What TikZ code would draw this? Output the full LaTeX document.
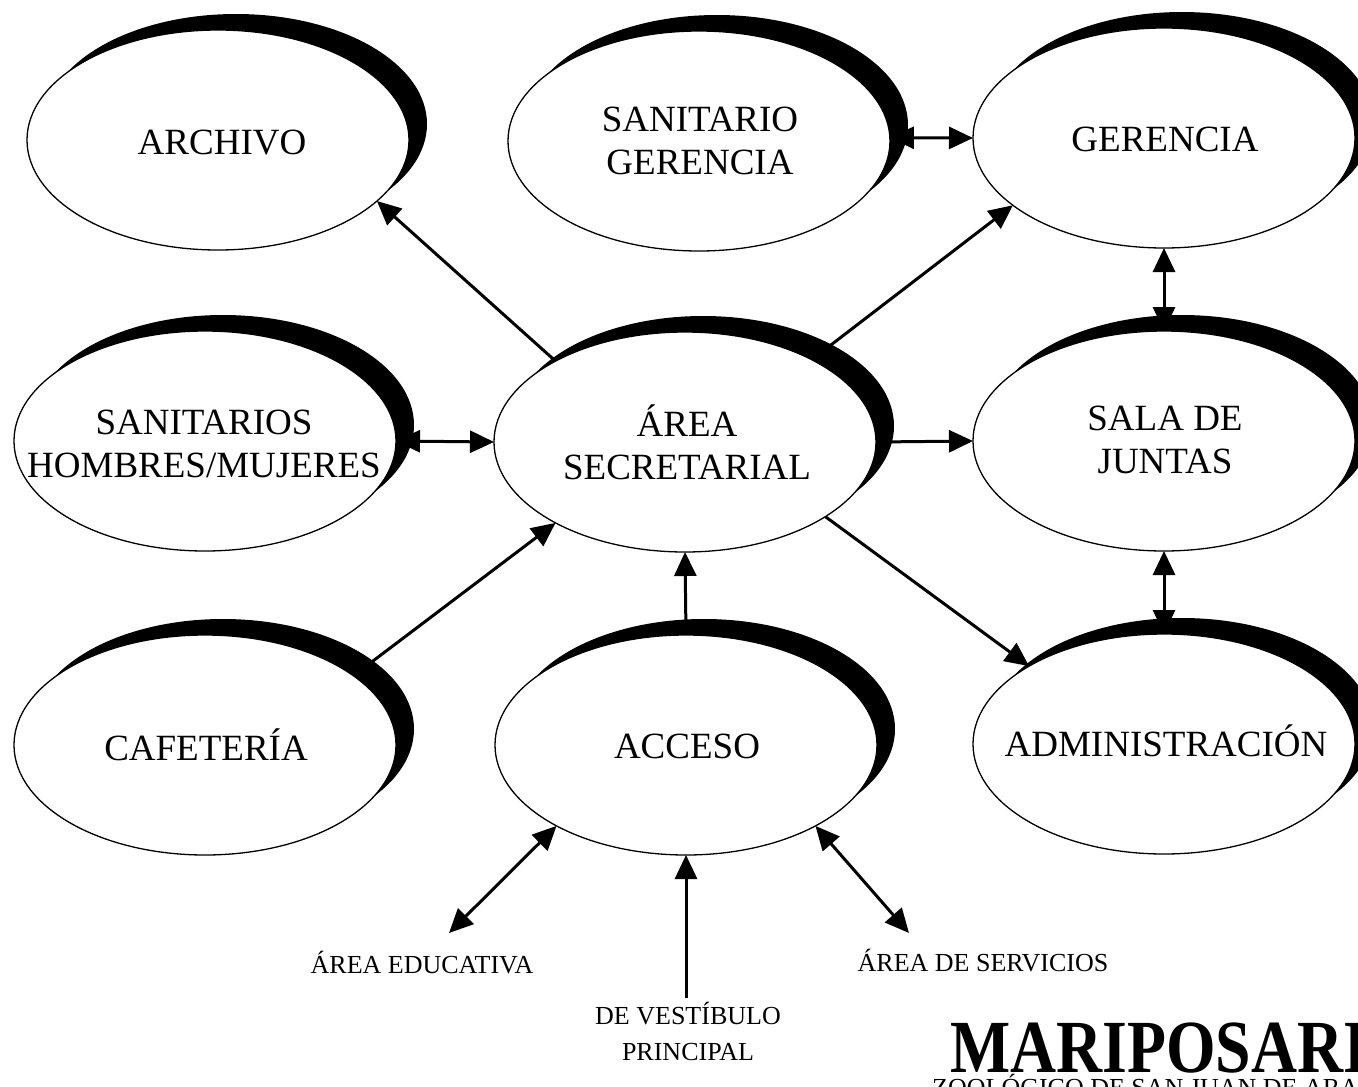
\documentclass[tikz,border=0pt]{standalone}
\usepackage{fontspec}
\usepackage{graphicx}
\setmainfont{Liberation Serif}
\usetikzlibrary{arrows.meta,shapes.geometric,shadows,backgrounds}

\tikzset{
  room/.style={ellipse, draw=black, line width=1.3pt, fill=white,
    minimum width=382pt, minimum height=220pt, inner sep=0pt, outer sep=0pt,
    general shadow={fill=black, shadow xshift=18pt, shadow yshift=16pt}},
  roomtext/.style={font=\fontsize{37}{43}\selectfont, align=center, inner sep=0pt},
  note/.style={font=\fontsize{26}{36}\selectfont, align=center, inner sep=0pt},
  flowtip/.tip={Triangle[length=24pt,width=22pt]},
  oneway/.style={line width=3pt, -flowtip},
  twoway/.style={line width=3pt, flowtip-flowtip},
}

\begin{document}
\begin{tikzpicture}[x=1pt,y=-1pt]
\useasboundingbox (0,0) rectangle (1358,1087);
\clip (0,0) rectangle (1358,1087);

% rooms (white ellipses with a black crescent shadow)
\node[room] (arch)  at (218,140) {};
\node[room] (sang)  at (699,141) {};
\node[room] (ger)   at (1164,138) {};
\node[room] (sanhm) at (205,441) {};
\node[room] (sec)   at (685,442) {};
\node[room] (sala)  at (1164,441) {};
\node[room] (caf)   at (205,745) {};
\node[room] (acc)   at (686,745) {};
\node[room] (adm)   at (1164,744) {};

% room names
\node[roomtext] (archT)  at (222,143) {ARCHIVO};
\node[roomtext] (sangT)  at (700,141) {SANITARIO\\GERENCIA};
\node[roomtext] (gerT)   at (1165,139) {GERENCIA};
\node[roomtext] (sanhmT) at (204,444) {SANITARIOS\\HOMBRES/MUJERES};
\node[roomtext] (secT)   at (687,442) {ÁREA\\SECRETARIAL};
\node[roomtext] (salaT)  at (1165,440) {SALA DE\\JUNTAS};
\node[roomtext] (cafT)   at (206,745) {CAFETERÍA};
\node[roomtext] (accT)   at (687,746) {ACCESO};
\node[roomtext] (admT)   at (1166,741) {ADMINISTRACIÓN};

% outside areas
\node[note] (eduT)  at (422,963) {ÁREA EDUCATIVA};
\node[note] (servT) at (983,961) {ÁREA DE SERVICIOS};
\node[note] (vestT) at (688,1031) {DE VESTÍBULO\\PRINCIPAL};
\coordinate (eduTip)  at (449,933);
\coordinate (servTip) at (909,933);
\coordinate (vestTop) at (686,998);

% title block
\node[anchor=base west, inner sep=0pt, font=\bfseries\fontsize{75}{75}\selectfont]
  (title) at (950,1072) {\scalebox{0.85}[1]{MARIPOSARIO}};
\node[anchor=base west, inner sep=0pt, font=\fontsize{26}{30}\selectfont]
  (subtitle) at (932,1096) {ZOOLÓGICO DE SAN JUAN DE ARAGÓN};

% connectors, kept under the ellipses
\begin{scope}[on background layer]
  \fill[white] (0,0) rectangle (1358,1087);
  \draw[oneway] (sec.148) -- (arch.339);
  \draw[oneway] (sec.33)  -- (ger.204);
  \draw[twoway] (sang.1)  -- (ger.180);
  \draw[twoway] (sanhm.0) -- (sec.180);
  \draw[oneway] (sec.0)   -- (sala.180);
  \draw[twoway] (ger.270) -- (sala.90);
  \draw[twoway] (sala.270) -- (adm.90);
  \draw[oneway] (sec.332) -- (adm.150);
  \draw[oneway] (caf.25)  -- (sec.212);
  \draw[oneway] (acc.90)  -- (sec.270);
  \draw[twoway] (acc.212) -- (eduTip);
  \draw[oneway] (vestTop) -- (acc.270);
  \draw[twoway] (acc.328) -- (servTip);
\end{scope}
\end{tikzpicture}
\end{document}
